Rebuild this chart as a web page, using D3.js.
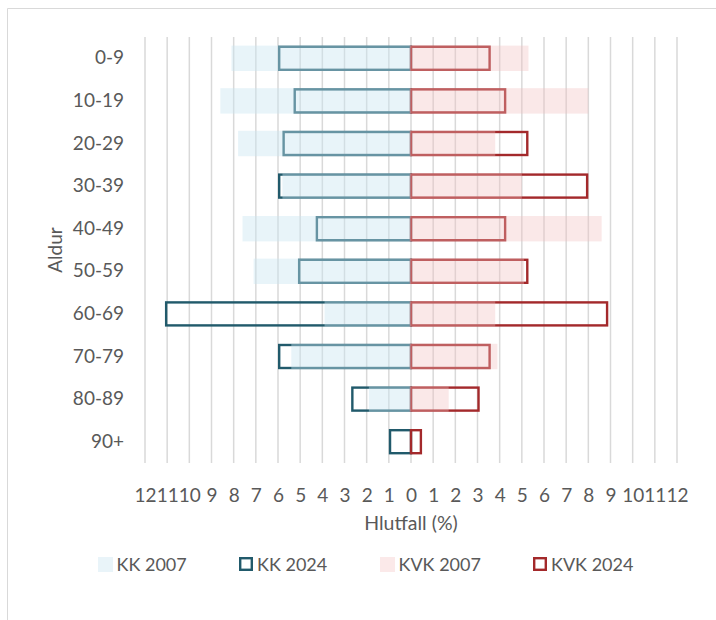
<!DOCTYPE html>
<html lang="is">
<head>
  <meta charset="UTF-8">
  <title>Aldursdreifing</title>
  <style>
    body { margin: 0; background: #fff; }
    svg { font-family: Lato, "Open Sans", sans-serif; }
  </style>
</head>
<body>
<div id="chart"></div>
<script src="https://cdn.jsdelivr.net/npm/d3@7"></script>
<script>
  // age groups and shares (%)
  const ageGroups = ["0-9", "10-19", "20-29", "30-39", "40-49", "50-59", "60-69", "70-79", "80-89", "90+"];
  const kk2007  = [8.1, 8.6, 7.8, 5.8, 7.6, 7.1, 3.9, 5.4, 1.9, 0.0];
  const kk2024  = [6.0, 5.3, 5.8, 6.0, 4.3, 5.1, 11.1, 6.0, 2.7, 1.0];
  const kvk2007 = [5.3, 8.0, 3.8, 5.0, 8.6, 5.1, 3.8, 3.9, 1.7, 0.0];
  const kvk2024 = [3.6, 4.3, 5.3, 8.0, 4.3, 5.3, 8.9, 3.6, 3.1, 0.5];
  const xTicks = d3.range(-12, 13);
  const legendLabels = ["KK 2007", "KK 2024", "KVK 2007", "KVK 2024"];

  const width = 716, height = 620;
  const margin = {top: 37, right: 39, bottom: 157, left: 145};
  const textColor = "#595959";

  const svg = d3.select("#chart").append("svg")
    .attr("width", width)
    .attr("height", height);

  // chart frame (only left/top visible in the picture)
  svg.append("path")
    .attr("d", "M7.5," + (height + 2) + "V8.5H" + (width + 2))
    .attr("fill", "none")
    .attr("stroke", "#d9d9d9")
    .attr("stroke-width", 1);

  const x = d3.scaleLinear()
    .domain([-12, 12])
    .range([margin.left, width - margin.right]);

  const y = d3.scaleBand()
    .domain(ageGroups)
    .range([margin.top, height - margin.bottom])
    .paddingInner(0.46)
    .paddingOuter(0.23);

  // vertical gridlines
  svg.append("g").selectAll("line")
    .data(xTicks)
    .join("line")
    .attr("x1", d => x(d))
    .attr("x2", d => x(d))
    .attr("y1", margin.top)
    .attr("y2", height - margin.bottom)
    .attr("stroke", "#d9d9d9")
    .attr("stroke-width", 1.5);

  const rows = ageGroups.map((g, i) => ({
    group: g, kk07: kk2007[i], kk24: kk2024[i], kvk07: kvk2007[i], kvk24: kvk2024[i]
  }));

  // 2024 outlines underneath
  svg.append("g").selectAll("rect")
    .data(rows)
    .join("rect")
    .attr("x", d => x(-d.kk24) + 1.2)
    .attr("y", d => y(d.group))
    .attr("width", d => x(0) - x(-d.kk24) - 1.2)
    .attr("height", y.bandwidth())
    .attr("fill", "none")
    .attr("stroke", "#215a6b")
    .attr("stroke-width", 2.4);

  svg.append("g").selectAll("rect")
    .data(rows)
    .join("rect")
    .attr("x", x(0))
    .attr("y", d => y(d.group))
    .attr("width", d => x(d.kvk24) - x(0) - 1.2)
    .attr("height", y.bandwidth())
    .attr("fill", "none")
    .attr("stroke", "#a3292b")
    .attr("stroke-width", 2.4);

  // 2007 translucent bars on top
  svg.append("g").selectAll("rect")
    .data(rows)
    .join("rect")
    .attr("x", d => x(-d.kk07))
    .attr("y", d => y(d.group) - 1.2)
    .attr("width", d => x(0) - x(-d.kk07))
    .attr("height", y.bandwidth() + 2.4)
    .attr("fill", "rgb(200,228,240)")
    .attr("fill-opacity", 0.42);

  svg.append("g").selectAll("rect")
    .data(rows)
    .join("rect")
    .attr("x", x(0))
    .attr("y", d => y(d.group) - 1.2)
    .attr("width", d => x(d.kvk07) - x(0))
    .attr("height", y.bandwidth() + 2.4)
    .attr("fill", "rgb(240,192,192)")
    .attr("fill-opacity", 0.36);

  // x axis labels (absolute values)
  const xAxis = svg.append("g")
    .attr("transform", "translate(0," + (height - margin.bottom) + ")")
    .call(d3.axisBottom(x).tickValues(xTicks).tickFormat(d => Math.abs(d)).tickSize(0).tickPadding(26));
  xAxis.select(".domain").remove();
  xAxis.selectAll("text")
    .attr("fill", textColor)
    .style("font-size", "19px")
    .style("font-family", "Lato, sans-serif");

  // y axis labels
  const yAxis = svg.append("g")
    .attr("transform", "translate(" + margin.left + ",0)")
    .call(d3.axisLeft(y).tickSize(0).tickPadding(21));
  yAxis.select(".domain").remove();
  yAxis.selectAll("text")
    .attr("fill", textColor)
    .style("font-size", "19px")
    .style("font-family", "Lato, sans-serif");

  // axis titles
  svg.append("text")
    .attr("x", x(0))
    .attr("y", 530)
    .attr("text-anchor", "middle")
    .attr("fill", textColor)
    .style("font-size", "19.5px")
    .text("Hlutfall (%)");

  svg.append("text")
    .attr("transform", "translate(62," + ((margin.top + height - margin.bottom) / 2) + ") rotate(-90)")
    .attr("text-anchor", "middle")
    .attr("fill", textColor)
    .style("font-size", "19px")
    .text("Aldur");

  // legend
  const legendX = [98, 239, 380, 533];
  const legend = svg.append("g").selectAll("g")
    .data(legendLabels)
    .join("g")
    .attr("transform", (d, i) => "translate(" + legendX[i] + ",557)");

  legend.append("rect")
    .attr("x", (d, i) => i % 2 ? 1.2 : 0)
    .attr("y", (d, i) => i % 2 ? 1.2 : 0)
    .attr("width", (d, i) => i % 2 ? 11.6 : 15)
    .attr("height", (d, i) => i % 2 ? 11.6 : 15)
    .attr("fill", (d, i) => i % 2 ? "#fff" : (i === 0 ? "#e9f4f9" : "#fbe9e9"))
    .attr("stroke", (d, i) => i === 1 ? "#215a6b" : i === 3 ? "#a3292b" : "none")
    .attr("stroke-width", 2.4);

  legend.append("text")
    .attr("x", (d, i) => i % 2 ? 18 : 18.5)
    .attr("y", 13.5)
    .attr("fill", textColor)
    .style("font-size", "18px")
    .text(d => d);
</script>
</body>
</html>
